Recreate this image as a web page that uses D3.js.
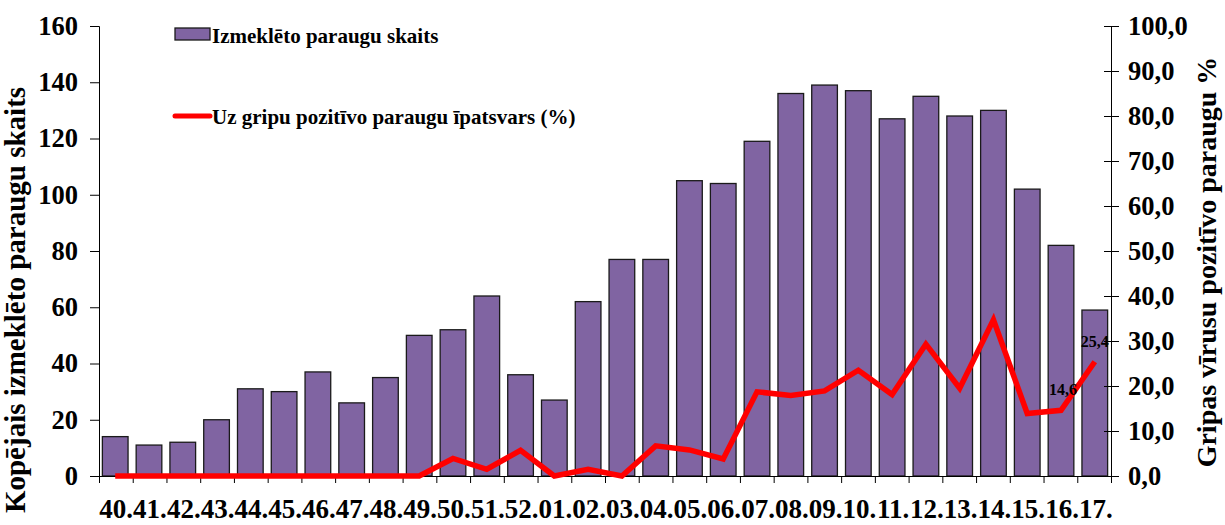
<!DOCTYPE html>
<html>
<head>
<meta charset="utf-8">
<script src="https://cdn.jsdelivr.net/npm/d3@7"></script>
<style>
  body { margin: 0; background: #fff; }
  text { font-family: "Liberation Serif", "Times New Roman", serif; font-weight: bold; }
</style>
</head>
<body>
<script>
const weeks = ["40", "41", "42", "43", "44", "45", "46", "47", "48", "49", "50", "51", "52",
    "01", "02", "03", "04", "05", "06", "07", "08", "09", "10", "11", "12", "13", "14", "15", "16", "17"];
const samples = [14, 11, 12, 20, 31, 30, 37, 26, 35, 50, 52, 64, 36,
    27, 62, 77, 77, 105, 104, 119, 136, 139, 137, 127, 135, 128, 130, 102, 82, 59];
const positive = [0, 0, 0, 0, 0, 0, 0, 0, 0, 0, 3.9, 1.5, 5.7,
    0, 1.5, 0, 6.7, 5.8, 3.8, 18.7, 17.9, 18.9, 23.5, 18.1, 29.3, 19.5, 34.7, 13.9, 14.6, 25.4];
const leftTicks = [0, 20, 40, 60, 80, 100, 120, 140, 160];
const rightTicks = [0, 10, 20, 30, 40, 50, 60, 70, 80, 90, 100];
const labelled = ["16", "17"];

const width = 1225;
const height = 525;
const m = { left: 99, right: 1111, top: 26, bottom: 476 };

const svg = d3.select("body")
    .append("svg")
    .attr("width", width)
    .attr("height", height);

const x = d3.scaleBand()
    .domain(weeks)
    .range([m.left, m.right])
    .paddingInner(0.24)
    .paddingOuter(0.1);

const yL = d3.scaleLinear().domain([0, 160]).range([m.bottom, m.top]);
const yR = d3.scaleLinear().domain([0, 100]).range([m.bottom, m.top]);

// bars
svg.append("g")
    .selectAll("rect")
    .data(weeks)
    .enter().append("rect")
    .attr("x", d => x(d))
    .attr("y", (d, i) => yL(samples[i]))
    .attr("width", x.bandwidth())
    .attr("height", (d, i) => m.bottom - yL(samples[i]))
    .attr("fill", "#8064a2")
    .attr("stroke", "#1a1a1a")
    .attr("stroke-width", 1.3);

// left axis
const axL = svg.append("g")
    .attr("transform", `translate(${m.left},0)`)
    .call(d3.axisLeft(yL).tickValues(leftTicks).tickSizeOuter(0).tickSize(9).tickPadding(12));
axL.selectAll("text").style("font-size", "26.5px").attr("fill", "#000");

// right axis (ticks cross the line)
const axR = svg.append("g")
    .attr("transform", `translate(${m.right},0)`)
    .call(d3.axisRight(yR).tickValues(rightTicks).tickSizeOuter(0).tickSize(8).tickPadding(9)
        .tickFormat(d => d3.format(".1f")(d).replace(".", ",")));
axR.selectAll(".tick line").attr("x1", -7);
axR.selectAll("text").style("font-size", "26.5px").attr("fill", "#000");

// x axis with ticks at category boundaries
const xt = d3.scaleLinear().domain([0, weeks.length]).range([m.left, m.right]);
const axX = svg.append("g")
    .attr("transform", `translate(0,${m.bottom})`)
    .call(d3.axisBottom(xt).ticks(weeks.length).tickFormat("").tickSize(7).tickSizeOuter(0));
axX.selectAll("path, line").attr("stroke", "#000");
axL.selectAll("path, line").attr("stroke", "#000");
axR.selectAll("path, line").attr("stroke", "#000");

svg.append("g")
    .selectAll("text")
    .data(weeks)
    .enter().append("text")
    .attr("x", d => x(d) + x.bandwidth() / 2 + 1)
    .attr("y", 518)
    .attr("text-anchor", "middle")
    .style("font-size", "27px")
    .text(d => d + ".");

// line
const line = d3.line()
    .x((d, i) => x(weeks[i]) + x.bandwidth() / 2)
    .y(d => yR(d));

svg.append("path")
    .datum(positive)
    .attr("d", line)
    .attr("fill", "none")
    .attr("stroke", "#ff0000")
    .attr("stroke-width", 5.5)
    .attr("stroke-linejoin", "miter");

// data labels
svg.append("g")
    .selectAll("text")
    .data(labelled)
    .enter().append("text")
    .attr("x", d => x(d) + x.bandwidth() / 2 + (d === "16" ? 2 : 0))
    .attr("y", d => yR(positive[weeks.indexOf(d)]) - 15)
    .attr("text-anchor", "middle")
    .style("font-size", "16px")
    .text(d => String(positive[weeks.indexOf(d)]).replace(".", ","));

// legend
const leg = svg.append("g");
leg.append("rect")
    .attr("x", 175).attr("y", 28).attr("width", 35).attr("height", 12)
    .attr("fill", "#8064a2").attr("stroke", "#1a1a1a").attr("stroke-width", 1.3);
leg.append("text")
    .attr("x", 212).attr("y", 43)
    .style("font-size", "21px")
    .text("Izmeklēto  paraugu skaits");
leg.append("line")
    .attr("x1", 175).attr("x2", 210).attr("y1", 116).attr("y2", 116)
    .attr("stroke", "#ff0000").attr("stroke-width", 5).attr("stroke-linecap", "round");
leg.append("text")
    .attr("x", 212).attr("y", 124)
    .style("font-size", "21px")
    .text("Uz gripu pozitīvo paraugu īpatsvars (%)");

// axis titles
svg.append("text")
    .attr("transform", "translate(25,300) rotate(-90)")
    .attr("text-anchor", "middle")
    .style("font-size", "29px")
    .text("Kopējais izmeklēto paraugu skaits");

svg.append("text")
    .attr("transform", "translate(1216,262) rotate(-90)")
    .attr("text-anchor", "middle")
    .style("font-size", "28px")
    .text("Gripas vīrusu pozitīvo  paraugu %");
</script>
</body>
</html>
